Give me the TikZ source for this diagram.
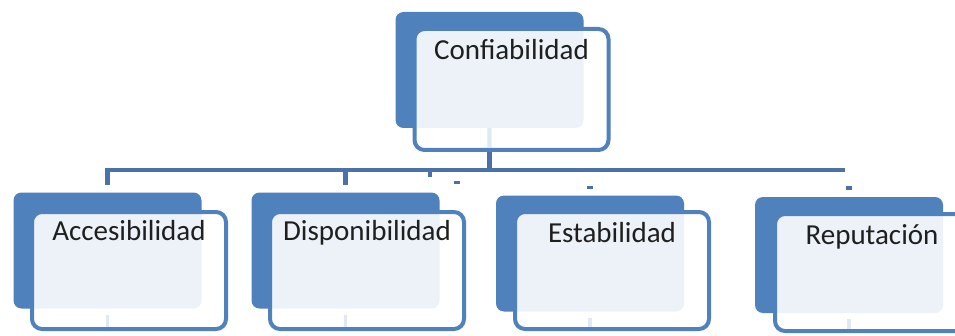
\documentclass[tikz,border=0pt]{standalone}
\usepackage{fontspec}
\setmainfont{Carlito}
\definecolor{sblue}{HTML}{4F81BD}
\definecolor{cblue}{HTML}{4A72A8}
\begin{document}
\begin{tikzpicture}[x=1pt,y=1pt,
 back/.style={fill=sblue, rounded corners=8pt, minimum width=188pt, minimum height=116pt, inner sep=0pt, outer sep=0pt},
 front/.style={draw=sblue, line width=4pt, fill=white, fill opacity=0.9, rounded corners=10pt, minimum width=194pt, minimum height=117pt, inner sep=0pt, outer sep=0pt},
 lbl/.style={font=\fontsize{29}{33}\selectfont, text=black!88, anchor=base, inner sep=0pt},
 conn/.style={draw=cblue, line width=4.5pt},
 stubmark/.style={fill=cblue}]
\clip (0,0) rectangle (955,335);
\fill[white] (0,0) rectangle (955,335);
% back plates
\node[back] (tb) at (489.5,265) {};
\node[back] (c1b) at (107.5,84.5) {};
\node[back] (c2b) at (345.5,84.5) {};
\node[back] (c3b) at (590,81.5) {};
\node[back] (c4b) at (849,80) {};
% connectors
\coordinate (barL) at (105,165);
\coordinate (barR) at (845,165);
\draw[conn] (tb.south) -- (tb.south |- barL);
\draw[conn] (barL) -- (barR);
\draw[conn] (c1b.north |- barL) -- ([yshift=8pt]c1b.north);
\draw[conn] (c2b.north |- barL) -- ([yshift=8pt]c2b.north);
\draw[conn] (430,165) -- (430,158);
\fill[stubmark] (454,151) rectangle (460,154);
\fill[stubmark] ([xshift=-3pt,yshift=7pt]c3b.north) rectangle ([xshift=3pt,yshift=10pt]c3b.north);
\fill[stubmark] ([xshift=-3pt,yshift=7pt]c4b.north) rectangle ([xshift=3pt,yshift=11pt]c4b.north);
% front panels (with faint stubs behind them)
\node[front, minimum height=121pt] (tf) at (511.5,245.5) {};
\node[front] (c1f) at (129,64.5) {};
\node[front] (c2f) at (367,64.5) {};
\node[front] (c3f) at (612,64.5) {};
\node[front] (c4f) at (872,62.5) {};
\begin{scope}[on background layer/.try]
\end{scope}
% labels
\node[lbl] (tl) at ([yshift=-31pt]tf.north) {Confiabilidad};
\node[lbl] (l1) at ([yshift=-28pt]c1f.north) {Accesibilidad};
\node[lbl] (l2) at ([yshift=-28pt]c2f.north) {Disponibilidad};
\node[lbl] (l3) at ([yshift=-30pt]c3f.north) {Estabilidad};
\node[lbl] (l4) at ([yshift=-30pt]c4f.north) {Reputación};
% faint stubs seen through the panels
\draw[draw=sblue!18, line width=3.5pt] ([yshift=-6pt]c1b.south) -- ([yshift=2pt]c1b.south |- c1f.south);
\draw[draw=sblue!18, line width=3.5pt] ([yshift=-6pt]c2b.south) -- ([yshift=2pt]c2b.south |- c2f.south);
\draw[draw=sblue!18, line width=3.5pt] ([yshift=-6pt]c3b.south) -- ([yshift=2pt]c3b.south |- c3f.south);
\draw[draw=sblue!18, line width=3.5pt] ([yshift=-6pt]c4b.south) -- ([yshift=2pt]c4b.south |- c4f.south);
\draw[draw=sblue!18, line width=3.5pt] (tb.south) -- ([yshift=2pt]tb.south |- tf.south);
\end{tikzpicture}
\end{document}
